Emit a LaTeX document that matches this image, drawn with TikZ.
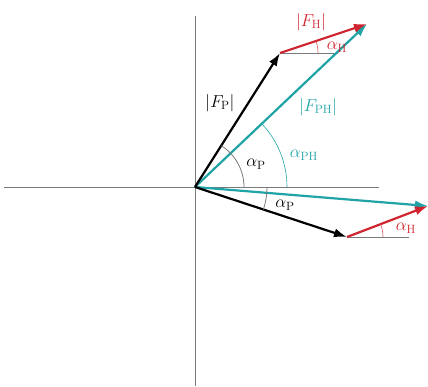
\documentclass[tikz,border=0pt]{standalone}
\usepackage{amsmath}
\usepackage{tikz}
\usetikzlibrary{arrows.meta,angles}
\definecolor{PHteal}{HTML}{1FA3A6}
\definecolor{Hred}{HTML}{D0242E}
\definecolor{axisgray}{HTML}{7A7A7A}

\begin{document}
\begin{tikzpicture}[x=1pt,y=1pt,>={Latex[length=13pt,width=9pt]},
  vec/.style={->,line width=2.2pt},
  axisline/.style={axisgray,line width=0.9pt},
  refline/.style={axisgray,line width=0.8pt},
  lbl/.style={font=\fontsize{17}{19}\selectfont,inner sep=0pt}]
  \useasboundingbox (-195,-199) rectangle (233,187);
  % axes
  \coordinate (O) at (0,0);
  \coordinate (xl) at (-191,0);
  \coordinate (xr) at (184,0);
  \coordinate (yt) at (0,171);
  \coordinate (yb) at (0,-199);
  \draw[axisline] (xl) -- (xr);
  \draw[axisline] (yt) -- (yb);
  % vector tips
  \coordinate (P1) at (85,134);
  \coordinate (H1) at (172,163);
  \coordinate (R1) at (143,134);
  \coordinate (P2) at (152,-50);
  \coordinate (H2) at (233,-19);
  \coordinate (R2) at (214,-50);
  \draw[refline] (P1) -- (R1);
  \draw[refline] (P2) -- (R2);
  \draw[vec,PHteal] (O) -- (H1);
  \draw[vec,PHteal] (O) -- (H2);
  \draw[vec,black] (O) -- (P1);
  \draw[vec,black] (O) -- (P2);
  \draw[vec,Hred] (P1) -- (H1);
  \draw[vec,Hred] (P2) -- (H2);
  % angles
  \pic[draw=axisgray,line width=0.8pt,angle radius=49pt] {angle=xr--O--P1};
  \pic[draw=PHteal,line width=0.6pt,angle radius=92pt] {angle=xr--O--H1};
  \pic[draw=axisgray,line width=0.8pt,angle radius=72pt] {angle=P2--O--xr};
  \pic[draw=Hred!80,line width=0.6pt,angle radius=38pt] {angle=R1--P1--H1};
  \pic[draw=Hred!80,line width=0.6pt,angle radius=36pt] {angle=R2--P2--H2};
  % labels
  \node[lbl] (fp) at (25,84) {$|F_{\mathrm{P}}|$};
  \node[lbl,PHteal] (fph) at (123,80) {$|F_{\mathrm{PH}}|$};
  \node[lbl,Hred] (fh) at (116,165) {$|F_{\mathrm{H}}|$};
  \node[lbl] (ap1) at (61,23) {$\alpha_{\mathrm{P}}$};
  \node[lbl,PHteal] (aph) at (109,32) {$\alpha_{\mathrm{PH}}$};
  \node[lbl,Hred] (ah1) at (142,140) {$\alpha_{\mathrm{H}}$};
  \node[lbl] (ap2) at (90,-18) {$\alpha_{\mathrm{P}}$};
  \node[lbl,Hred] (ah2) at (211,-41) {$\alpha_{\mathrm{H}}$};
\end{tikzpicture}
\end{document}
